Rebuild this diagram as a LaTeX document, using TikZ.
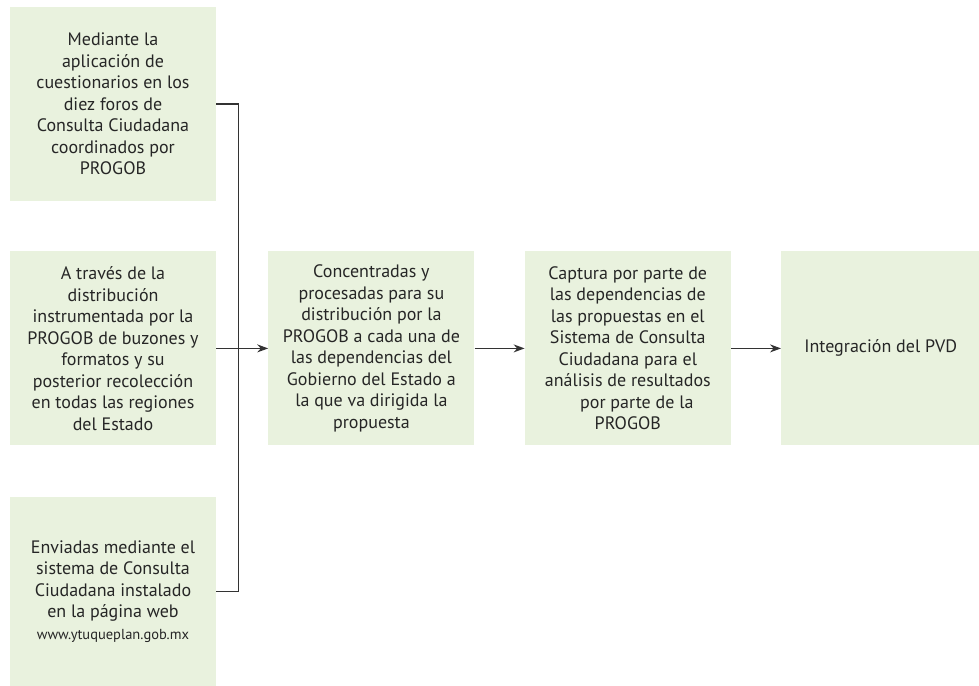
\documentclass[tikz,border=0pt]{standalone}
\usepackage{fontspec}
\setmainfont{PT Sans}
\usetikzlibrary{positioning}
\usetikzlibrary{arrows.meta}
\definecolor{boxgreen}{RGB}{233,242,222}
\definecolor{linegray}{RGB}{51,51,51}
\tikzstyle{arrow} = [line width=1.3pt,draw=linegray,-{Stealth[length=11pt,width=8pt]}]
\tikzstyle{line} = [line width=1.3pt,draw=linegray]
\tikzstyle{box} = [rectangle,fill=boxgreen,inner sep=0pt,minimum width=206pt,minimum height=194pt,align=center,font=\fontsize{18}{21.5}\selectfont,text=black!85]

\begin{document}
\begin{tikzpicture}[x=1pt,y=-1pt]
	\useasboundingbox (0,0) rectangle (979,685);
	
	%Nodes
	\node [box] (foros) at (113,104) {Mediante la\\aplicación de\\cuestionarios en los\\diez foros de\\Consulta Ciudadana\\coordinados por\\PROGOB};
	\node [box, below=50pt of foros] (buzones) {A través de la\\distribución\\instrumentada por la\\PROGOB de buzones y\\formatos y su\\posterior recolección\\en todas las regiones\\del Estado};
	\node [box, below=51pt of buzones, minimum height=189pt] (web) {Enviadas mediante el\\sistema de Consulta\\Ciudadana instalado\\en la página web\\{\fontsize{14.5}{21.5}\selectfont www.ytuqueplan.gob.mx}};
	
	\node [box, right=52pt of buzones] (concentradas) {Concentradas y\\procesadas para su\\distribución por la\\PROGOB a cada una de\\las dependencias del\\Gobierno del Estado a\\la que va dirigida la\\propuesta};
	\node [box, right=50pt of concentradas] (captura) {Captura por parte de\\las dependencias de\\las propuestas en el\\Sistema de Consulta\\Ciudadana para el\\análisis de resultados\\\hspace*{18pt}por parte de la\\PROGOB};
	\node [box, right=50pt of captura, minimum width=199pt] (pvd) {Integración del PVD};
	
	\coordinate (join) at (238.7,347);
	
	%Lines
	\draw[line] (foros.east) -| (join) |- (web.east);
	\draw[arrow] (buzones.east) -- (concentradas.west);
	\draw[arrow] (concentradas.east) -- (captura.west);
	\draw[arrow] (captura.east) -- (pvd.west);
	
\end{tikzpicture}
\end{document}
